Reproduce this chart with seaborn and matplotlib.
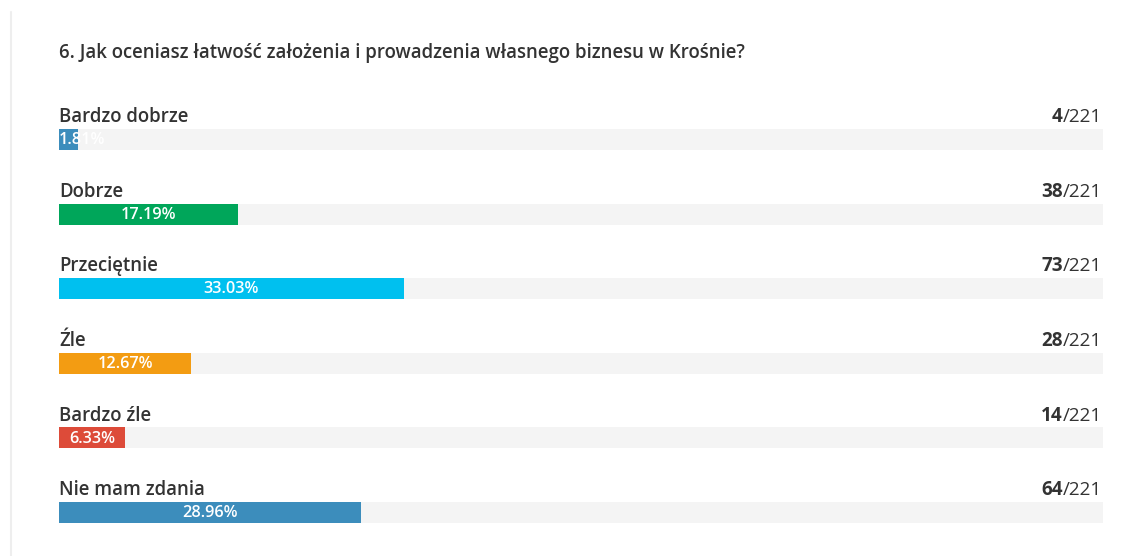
import matplotlib
matplotlib.use("Agg")
import pandas as pd
import seaborn as sns
import matplotlib.pyplot as plt
from matplotlib.lines import Line2D

# data
answers = ["Bardzo dobrze", "Dobrze", "Przeciętnie", "Źle", "Bardzo źle", "Nie mam zdania"]
counts = [4, 38, 73, 28, 14, 64]
percents = [1.81, 17.19, 33.03, 12.67, 6.33, 28.96]
total = 221
bar_colors = ["#3c8dbc", "#00a65a", "#00c0ef", "#f39c12", "#dd4b39", "#3c8dbc"]

title = "6. Jak oceniasz łatwość założenia i prowadzenia własnego biznesu w Krośnie?"

df = pd.DataFrame({"answer": answers, "percent": percents, "full": [100] * len(answers)})

sns.set_style("white")
plt.rcParams["font.family"] = ["Open Sans", "DejaVu Sans"]

fig = plt.figure(figsize=(11.4, 5.56), dpi=100)
ax = fig.add_axes([59 / 1140, 0.0112, (1103 - 59) / 1140, 0.8586])

# grey background track
sns.barplot(data=df, x="full", y="answer", color="#f4f4f4", width=0.28,
            saturation=1, linewidth=0, ax=ax, orient="h")
# actual bars
sns.barplot(data=df, x="percent", y="answer", hue="answer", palette=bar_colors,
            width=0.28, saturation=1, linewidth=0, legend=False, ax=ax, orient="h")

ax.set_xlim(0, 100)
ax.set_ylim(5.5, -0.9)
ax.set_axis_off()

for i, (lab, c, p) in enumerate(zip(answers, counts, percents)):
    ax.text(0, i - 0.30, lab, ha="left", va="center", fontsize=13.4,
            fontweight="semibold", color="#333333")
    slash = ax.text(99.9, i - 0.30, f"/{total}", ha="right", va="center",
                    fontsize=13.6, color="#333333")
    ax.annotate(str(c), xy=(0, 0.5), xycoords=slash, ha="right", va="center",
                fontsize=13.6, fontweight="bold", color="#333333")
    if p < 5:
        ax.text(0, i + 0.01, f"{p:.2f}%", ha="left", va="center", fontsize=11.7,
                fontweight="semibold", color="white")
    else:
        ax.text(p / 2, i + 0.01, f"{p:.2f}%", ha="center", va="center", fontsize=11.7,
                fontweight="semibold", color="white")

fig.text(59 / 1140, 1 - 53 / 556, title, ha="left", va="center", fontsize=13.4,
         fontweight="semibold", color="#333333")

fig.add_artist(Line2D([11 / 1140, 11 / 1140], [0, 1 - 12 / 556],
                      transform=fig.transFigure, color="#eeeeee", lw=1.5))

plt.savefig("out.png", dpi=100, facecolor="white")
